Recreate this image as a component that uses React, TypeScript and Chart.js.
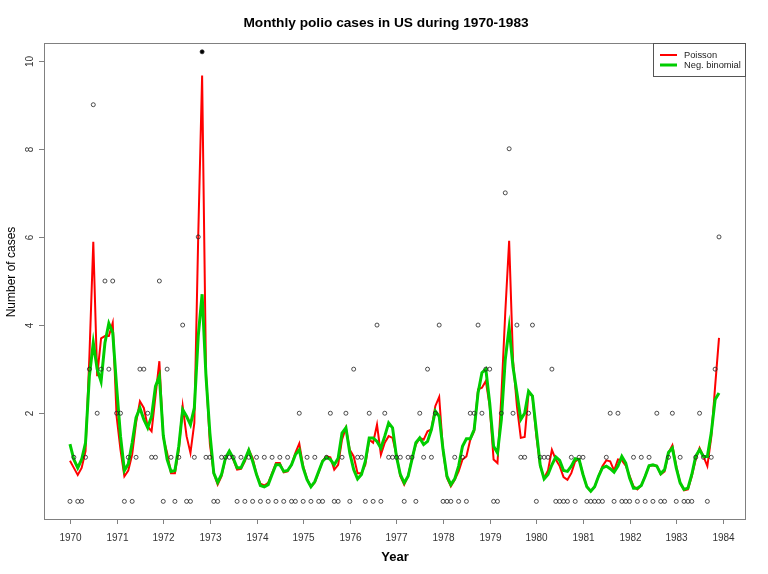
import React, { useEffect, useRef } from "react";
import { Chart, registerables } from "chart.js";

Chart.register(...registerables);

const START_YEAR = 1970;
const YEAR_TICKS = [1970, 1971, 1972, 1973, 1974, 1975, 1976, 1977, 1978, 1979, 1980, 1981, 1982, 1983, 1984];
const Y_TICKS = [2, 4, 6, 8, 10];

// Observed monthly counts (the Nov 1972 count of 14 is drawn at the top edge, 10.2)
const observed = [
  0, 1, 0, 0, 1, 3, 9, 2, 3, 5, 3, 5,
  2, 2, 0, 1, 0, 1, 3, 3, 2, 1, 1, 5,
  0, 3, 1, 0, 1, 4, 0, 0, 1, 6, 10.2, 1,
  1, 0, 0, 1, 1, 1, 1, 0, 1, 0, 1, 0,
  1, 0, 1, 0, 1, 0, 1, 0, 1, 0, 0, 2,
  0, 1, 0, 1, 0, 0, 1, 2, 0, 0, 1, 2,
  0, 3, 1, 1, 0, 2, 0, 4, 0, 2, 1, 1,
  1, 1, 0, 1, 1, 0, 2, 1, 3, 1, 2, 4,
  0, 0, 0, 1, 0, 1, 0, 2, 2, 4, 2, 3,
  3, 0, 0, 2, 7, 8, 2, 4, 1, 1, 2, 4,
  0, 1, 1, 1, 3, 0, 0, 0, 0, 1, 0, 1,
  1, 0, 0, 0, 0, 0, 1, 2, 0, 2, 0, 0,
  0, 1, 0, 1, 0, 1, 0, 2, 0, 0, 1, 2,
  0, 1, 0, 0, 0, 1, 2, 1, 0, 1, 3, 6,
];

const poissonFit = [
  0.92, 0.76, 0.6, 0.76, 1.14, 3.3, 5.89, 2.84, 3.7, 3.75, 3.75, 4.05,
  1.93, 1.17, 0.57, 0.7, 1.06, 1.78, 2.27, 2.12, 1.7, 1.59, 2.39, 3.18,
  1.45, 1.1, 0.64, 0.64, 1.17, 2.16, 1.48, 1.1, 1.78, 6.02, 9.66, 2.9,
  1.3, 0.64, 0.38, 0.57, 0.98, 1.14, 0.95, 0.72, 0.74, 0.91, 1.17, 0.98,
  0.61, 0.4, 0.36, 0.42, 0.64, 0.87, 0.87, 0.66, 0.68, 0.83, 1.1, 1.31,
  0.8, 0.51, 0.33, 0.43, 0.66, 0.92, 1.02, 1.0, 0.72, 0.83, 1.4, 1.67,
  1.17, 1.02, 0.64, 0.64, 0.83, 1.4, 1.33, 1.74, 1.06, 1.33, 1.48, 1.44,
  1.06, 0.57, 0.38, 0.57, 0.98, 1.29, 1.44, 1.4, 1.59, 1.63, 2.16, 2.37,
  1.14, 0.53, 0.34, 0.49, 0.68, 0.95, 1.02, 1.4, 1.59, 2.54, 2.58, 2.73,
  2.16, 0.95, 0.87, 2.39, 4.28, 5.91, 3.2, 2.16, 1.44, 1.46, 2.46, 2.39,
  1.48, 0.8, 0.53, 0.7, 1.17, 0.95, 0.8, 0.55, 0.49, 0.64, 0.91, 0.96,
  0.61, 0.33, 0.23, 0.33, 0.57, 0.8, 0.93, 0.91, 0.7, 0.95, 0.93, 0.81,
  0.58, 0.34, 0.27, 0.36, 0.57, 0.81, 0.82, 0.81, 0.61, 0.68, 1.1, 1.27,
  0.8, 0.42, 0.25, 0.27, 0.57, 0.95, 1.21, 1.02, 0.8, 1.45, 2.61, 3.71,
];

const negBinFit = [
  1.3, 0.95, 0.76, 0.95, 1.33, 2.85, 3.6, 3.0, 2.72, 3.6, 4.04, 3.83,
  2.6, 1.48, 0.7, 0.85, 1.33, 1.9, 2.12, 1.86, 1.67, 1.93, 2.61, 2.84,
  1.5, 0.95, 0.68, 0.7, 1.25, 2.08, 1.93, 1.74, 2.12, 3.75, 4.7, 2.84,
  1.55, 0.64, 0.43, 0.61, 0.98, 1.14, 0.98, 0.76, 0.76, 0.95, 1.16, 0.91,
  0.61, 0.36, 0.33, 0.38, 0.61, 0.83, 0.83, 0.68, 0.7, 0.83, 1.06, 1.17,
  0.76, 0.49, 0.33, 0.45, 0.68, 0.91, 1.0, 0.95, 0.83, 0.98, 1.55, 1.67,
  1.1, 0.72, 0.51, 0.61, 0.91, 1.44, 1.44, 1.36, 1.21, 1.48, 1.78, 1.67,
  1.02, 0.61, 0.42, 0.57, 0.95, 1.33, 1.44, 1.29, 1.36, 1.63, 2.05, 1.93,
  1.17, 0.57, 0.38, 0.51, 0.8, 1.25, 1.42, 1.42, 1.63, 2.46, 2.92, 3.0,
  2.23, 1.25, 1.1, 1.86, 3.22, 3.94, 3.05, 2.46, 1.86, 2.0, 2.5, 2.39,
  1.6, 0.82, 0.51, 0.61, 0.83, 1.01, 0.93, 0.7, 0.68, 0.8, 0.97, 0.95,
  0.61, 0.33, 0.23, 0.33, 0.57, 0.76, 0.8, 0.74, 0.66, 0.8, 1.02, 0.87,
  0.53, 0.3, 0.3, 0.36, 0.57, 0.81, 0.83, 0.8, 0.63, 0.72, 1.11, 1.21,
  0.76, 0.42, 0.27, 0.3, 0.61, 1.02, 1.17, 1.02, 1.02, 1.55, 2.31, 2.46,
];

const toPoints = (arr: number[]) => arr.map((v, i) => ({ x: START_YEAR + i / 12, y: v }));

const FONT = "'Liberation Sans', Arial, Helvetica, sans-serif";
const RED = "#FF0000";
const GREEN = "#00CD00";

const decorPlugin = {
  id: "decor",
  afterDraw(chart: any) {
    const { ctx, chartArea: a, scales } = chart;
    const xs = scales.x;
    const ys = scales.y;
    ctx.save();
    // box
    ctx.strokeStyle = "#808080";
    ctx.lineWidth = 1;
    ctx.strokeRect(Math.round(a.left) + 0.5, Math.round(a.top) + 0.5, Math.round(a.right - a.left), Math.round(a.bottom - a.top));
    // x ticks
    ctx.fillStyle = "#333333";
    ctx.font = `10px ${FONT}`;
    ctx.textAlign = "center";
    ctx.textBaseline = "middle";
    YEAR_TICKS.forEach((yr) => {
      const px = Math.round(xs.getPixelForValue(yr)) + 0.5;
      ctx.beginPath();
      ctx.moveTo(px, a.bottom);
      ctx.lineTo(px, a.bottom + 5);
      ctx.stroke();
      ctx.fillText(String(yr), px, a.bottom + 19);
    });
    // y ticks
    Y_TICKS.forEach((v) => {
      const py = Math.round(ys.getPixelForValue(v)) + 0.5;
      ctx.beginPath();
      ctx.moveTo(a.left, py);
      ctx.lineTo(a.left - 5, py);
      ctx.stroke();
      ctx.save();
      ctx.translate(30, py);
      ctx.rotate(-Math.PI / 2);
      ctx.fillText(String(v), 0, 0);
      ctx.restore();
    });
    // titles
    ctx.fillStyle = "#000000";
    ctx.font = `bold 13.7px ${FONT}`;
    ctx.fillText("Monthly polio cases in US during 1970-1983", 386, 23);
    ctx.font = `bold 13px ${FONT}`;
    ctx.fillText("Year", 395, 557);
    ctx.save();
    ctx.translate(12, 272);
    ctx.rotate(-Math.PI / 2);
    ctx.font = `12px ${FONT}`;
    ctx.fillText("Number of cases", 0, 0);
    ctx.restore();
    // legend
    const lx = 653;
    const ly = 43;
    ctx.fillStyle = "#ffffff";
    ctx.fillRect(lx, ly, 93, 34);
    ctx.lineWidth = 1;
    ctx.strokeStyle = "#555555";
    ctx.strokeRect(lx + 0.5, ly + 0.5, 92, 33);
    ctx.lineWidth = 2;
    ctx.strokeStyle = RED;
    ctx.beginPath();
    ctx.moveTo(660, 55);
    ctx.lineTo(677, 55);
    ctx.stroke();
    ctx.lineWidth = 3;
    ctx.strokeStyle = GREEN;
    ctx.beginPath();
    ctx.moveTo(660, 65);
    ctx.lineTo(677, 65);
    ctx.stroke();
    ctx.fillStyle = "#222222";
    ctx.font = `9.3px ${FONT}`;
    ctx.textAlign = "left";
    ctx.fillText("Poisson", 684, 55);
    ctx.fillText("Neg. binomial", 684, 65);
    ctx.restore();
  },
};

export default function App() {
  const ref = useRef<HTMLCanvasElement | null>(null);
  useEffect(() => {
    if (!ref.current) return;
    const chart = new Chart(ref.current, {
      type: "scatter",
      data: {
        datasets: [
          {
            label: "Observed",
            data: toPoints(observed),
            showLine: false,
            pointRadius: 2,
            pointBorderWidth: 0.8,
            pointBorderColor: "#222222",
            pointBackgroundColor: (c: any) => (c.raw && c.raw.y > 10 ? "#000000" : "rgba(0,0,0,0)"),
            order: 0,
          },
          {
            label: "Neg. binomial",
            data: toPoints(negBinFit),
            showLine: true,
            borderColor: GREEN,
            borderWidth: 3,
            pointRadius: 0,
            tension: 0,
            order: 1,
          },
          {
            label: "Poisson",
            data: toPoints(poissonFit),
            showLine: true,
            borderColor: RED,
            borderWidth: 2,
            pointRadius: 0,
            tension: 0,
            order: 2,
          },
        ],
      },
      options: {
        responsive: false,
        animation: false,
        devicePixelRatio: 1,
        layout: { padding: { left: 44, top: 43, right: 23, bottom: 55 } },
        plugins: { legend: { display: false }, tooltip: { enabled: false }, title: { display: false } },
        scales: {
          x: { type: "linear", display: false, min: 1969.443, max: 1984.474 },
          y: { type: "linear", display: false, min: -0.4, max: 10.4 },
        },
      },
      plugins: [decorPlugin],
    });
    return () => chart.destroy();
  }, []);
  return (
    <div style={{ position: "fixed", left: 0, top: 0, width: 768, height: 574, background: "#fff" }}>
      <canvas ref={ref} width={768} height={574} style={{ display: "block" }} />
    </div>
  );
}
